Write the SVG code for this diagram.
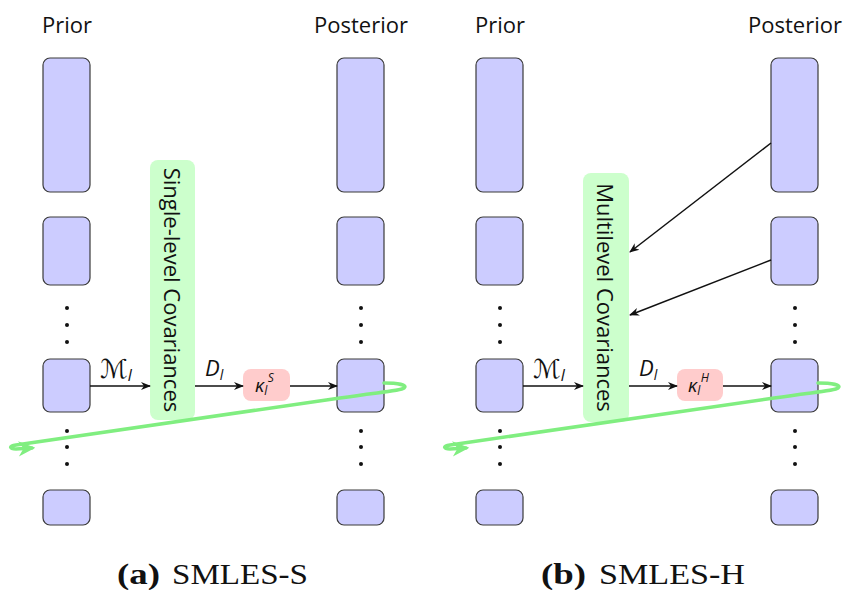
<svg xmlns="http://www.w3.org/2000/svg" width="856" height="590" viewBox="0 0 856 590">
<defs>
<style>
.box{fill:#ccccff;stroke:#3a3a3a;stroke-width:1.2}
.cov{fill:#ccffcc;stroke:none}
.kap{fill:#ffcccc;stroke:none}
.lbl{font-family:"Open Sans","DejaVu Sans",sans-serif;font-size:22px;fill:#111}
.cov-t{font-family:"Open Sans","DejaVu Sans",sans-serif;font-size:22px;fill:#111}
.math{font-family:"Open Sans","DejaVu Sans",sans-serif;font-style:italic;fill:#111}
.cap{font-family:"Liberation Serif",serif;font-size:30px;fill:#111}
.dot{fill:#111}
.arr{stroke:#111;stroke-width:1.5;fill:none;marker-end:url(#ah)}
.spiral{stroke:#80ee80;stroke-width:3.6;fill:none;marker-end:url(#gh);stroke-linecap:round}
</style>
<marker id="ah" viewBox="0 0 10 10" refX="9" refY="5" markerWidth="10" markerHeight="10" markerUnits="userSpaceOnUse" orient="auto">
<path d="M0,1 L10,5 L0,9 L3,5 Z" fill="#111"/>
</marker>
<marker id="gh" viewBox="0 0 10 10" refX="8" refY="5" markerWidth="17" markerHeight="17" markerUnits="userSpaceOnUse" orient="auto">
<path d="M0,0.5 L10,5 L0,9.5 L3,5 Z" fill="#80ee80"/>
</marker>
</defs>

<!-- Panel (a) -->
<g id="a-prior-label"><text class="lbl" x="67" y="33" text-anchor="middle">Prior</text></g>
<g id="a-post-label"><text class="lbl" x="361" y="33" text-anchor="middle">Posterior</text></g>
<g id="a-prior-1"><rect class="box" x="43" y="58" width="47" height="134" rx="7"/></g>
<g id="a-prior-2"><rect class="box" x="43" y="217" width="47" height="68" rx="7"/></g>
<g id="a-prior-3"><rect class="box" x="43" y="359" width="47" height="53" rx="7"/></g>
<g id="a-prior-4"><rect class="box" x="43" y="490" width="47" height="35" rx="7"/></g>
<g id="a-post-1"><rect class="box" x="337" y="58" width="47" height="134" rx="7"/></g>
<g id="a-post-2"><rect class="box" x="337" y="217" width="47" height="68" rx="7"/></g>
<g id="a-post-3"><rect class="box" x="337" y="359" width="47" height="53" rx="7"/></g>
<g id="a-post-4"><rect class="box" x="337" y="490" width="47" height="35" rx="7"/></g>
<g id="a-dots">
<circle class="dot" cx="67" cy="308" r="2"/><circle class="dot" cx="67" cy="325" r="2"/><circle class="dot" cx="67" cy="342" r="2"/>
<circle class="dot" cx="67" cy="431" r="2"/><circle class="dot" cx="67" cy="447" r="2"/><circle class="dot" cx="67" cy="464" r="2"/>
<circle class="dot" cx="361" cy="308" r="2"/><circle class="dot" cx="361" cy="325" r="2"/><circle class="dot" cx="361" cy="342" r="2"/>
<circle class="dot" cx="361" cy="431" r="2"/><circle class="dot" cx="361" cy="447" r="2"/><circle class="dot" cx="361" cy="464" r="2"/>
</g>
<g id="a-cov">
<rect class="cov" x="150" y="160" width="45" height="260" rx="8"/>
<text class="cov-t" x="172.5" y="290" text-anchor="middle" dominant-baseline="central" transform="rotate(90 172.5 290)">Single-level Covariances</text>
</g>
<g id="a-kappa">
<rect class="kap" x="243" y="369" width="47" height="32" rx="8"/>
<text class="math" x="255" y="392" font-size="19">κ<tspan font-size="12" dy="3">l</tspan><tspan font-size="12" dx="0.5" dy="-13">S</tspan></text>
</g>

<!-- Panel (b) -->
<g id="b-prior-label"><text class="lbl" x="500" y="33" text-anchor="middle">Prior</text></g>
<g id="b-post-label"><text class="lbl" x="795" y="33" text-anchor="middle">Posterior</text></g>
<g id="b-prior-1"><rect class="box" x="476" y="58" width="47" height="134" rx="7"/></g>
<g id="b-prior-2"><rect class="box" x="476" y="217" width="47" height="68" rx="7"/></g>
<g id="b-prior-3"><rect class="box" x="476" y="359" width="47" height="53" rx="7"/></g>
<g id="b-prior-4"><rect class="box" x="476" y="490" width="47" height="35" rx="7"/></g>
<g id="b-post-1"><rect class="box" x="771" y="58" width="47" height="134" rx="7"/></g>
<g id="b-post-2"><rect class="box" x="771" y="217" width="47" height="68" rx="7"/></g>
<g id="b-post-3"><rect class="box" x="771" y="359" width="47" height="53" rx="7"/></g>
<g id="b-post-4"><rect class="box" x="771" y="490" width="47" height="35" rx="7"/></g>
<g id="b-dots">
<circle class="dot" cx="500" cy="308" r="2"/><circle class="dot" cx="500" cy="325" r="2"/><circle class="dot" cx="500" cy="342" r="2"/>
<circle class="dot" cx="500" cy="431" r="2"/><circle class="dot" cx="500" cy="447" r="2"/><circle class="dot" cx="500" cy="464" r="2"/>
<circle class="dot" cx="795" cy="308" r="2"/><circle class="dot" cx="795" cy="325" r="2"/><circle class="dot" cx="795" cy="342" r="2"/>
<circle class="dot" cx="795" cy="431" r="2"/><circle class="dot" cx="795" cy="447" r="2"/><circle class="dot" cx="795" cy="464" r="2"/>
</g>
<g id="b-cov">
<rect class="cov" x="583" y="173" width="46" height="249" rx="8"/>
<text class="cov-t" x="606" y="297.5" text-anchor="middle" dominant-baseline="central" transform="rotate(90 606 297.5)">Multilevel Covariances</text>
</g>
<g id="b-kappa">
<rect class="kap" x="677" y="369" width="46" height="32" rx="8"/>
<text class="math" x="688" y="392" font-size="19">κ<tspan font-size="12" dy="3">l</tspan><tspan font-size="12" dx="0.5" dy="-13">H</tspan></text>
</g>

<!-- Connectors -->
<g id="connectors">
<line class="arr" x1="90" y1="386" x2="150" y2="386"/>
<line class="arr" x1="195" y1="386" x2="243" y2="386"/>
<line class="arr" x1="290" y1="386" x2="337" y2="386"/>
<line class="arr" x1="523" y1="386" x2="583" y2="386"/>
<line class="arr" x1="629" y1="386" x2="677" y2="386"/>
<line class="arr" x1="723" y1="386" x2="771" y2="386"/>
<line class="arr" x1="771" y1="143" x2="630" y2="252"/>
<line class="arr" x1="771" y1="260" x2="630" y2="315"/>
<text class="math" x="100" y="378" font-size="26" font-family="DejaVu Serif">ℳ<tspan font-size="16" dy="3">l</tspan></text>
<text class="math" x="205" y="376" font-size="22">D<tspan font-size="14" dy="4">l</tspan></text>
<text class="math" x="533" y="378" font-size="26" font-family="DejaVu Serif">ℳ<tspan font-size="16" dy="3">l</tspan></text>
<text class="math" x="639" y="376" font-size="22">D<tspan font-size="14" dy="4">l</tspan></text>
<path class="spiral" d="M384,383 C398,383 408,385 404,388 C400,391 380,392 340,398 L16,445 C8,446 10,449 16,449 L32,448"/>
<path class="spiral" d="M818,383 C832,383 842,385 838,388 C834,391 814,392 774,398 L450,445 C442,446 444,449 450,449 L466,448"/>
</g>

<g id="captions">
<text class="cap" x="117" y="584" font-weight="bold" textLength="43" lengthAdjust="spacingAndGlyphs">(a)</text>
<text class="cap" x="172" y="584" textLength="136" lengthAdjust="spacingAndGlyphs">SMLES-S</text>
<text class="cap" x="541" y="584" font-weight="bold" textLength="45" lengthAdjust="spacingAndGlyphs">(b)</text>
<text class="cap" x="599" y="584" textLength="146" lengthAdjust="spacingAndGlyphs">SMLES-H</text>
</g>
</svg>
